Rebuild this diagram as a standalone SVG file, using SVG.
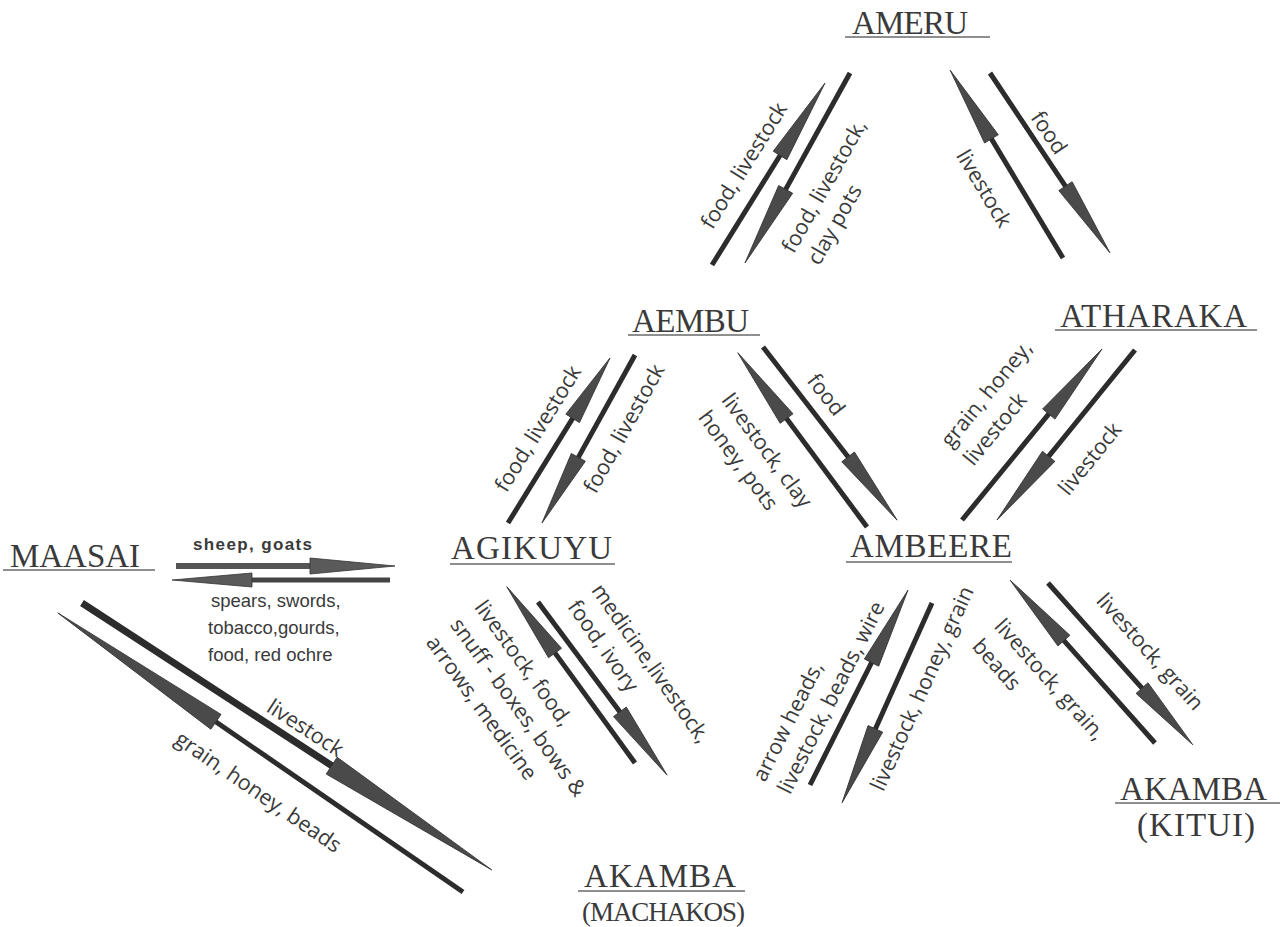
<svg xmlns="http://www.w3.org/2000/svg" width="1283" height="927" viewBox="0 0 1283 927">
<style>
.bg{fill:#ffffff}
.node{font-family:"Liberation Serif","Times New Roman",serif;font-size:33px;fill:#3a3a3a}
.sub{font-family:"Liberation Serif","Times New Roman",serif;font-size:27px;fill:#3a3a3a}
.ul{stroke:#6a6a6a;stroke-width:1.6;fill:none}
.lbl{font-family:"Open Sans","Noto Sans","Liberation Sans",sans-serif;font-size:21.5px;fill:#3a3a3a;dominant-baseline:central}
.hl{font-family:"Liberation Sans",Arial,sans-serif;font-size:18.5px;fill:#3a3a3a}
.sg{font-family:"Liberation Sans",Arial,sans-serif;font-size:17px;font-weight:bold;fill:#3a3a3a}
.shaft{stroke:#2c2c2c;stroke-width:5;fill:none}
.head{fill:#4a4a4a;stroke:#333;stroke-width:0.8}
</style>
<rect class="bg" x="0" y="0" width="1283" height="927"/>

<g id="ameru"><text class="node" x="852" y="34" textLength="116">AMERU</text><line class="ul" x1="845" y1="37" x2="990" y2="37"/></g>
<g id="aembu"><text class="node" x="632" y="332" textLength="117">AEMBU</text><line class="ul" x1="628" y1="335" x2="760" y2="335"/></g>
<g id="atharaka"><text class="node" x="1060" y="327" textLength="187">ATHARAKA</text><line class="ul" x1="1055" y1="330" x2="1257" y2="330"/></g>
<g id="maasai"><text class="node" x="10" y="567" textLength="130">MAASAI</text><line class="ul" x1="3" y1="570" x2="155" y2="570"/></g>
<g id="agikuyu"><text class="node" x="451" y="559" textLength="161">AGIKUYU</text><line class="ul" x1="450" y1="564" x2="615" y2="564"/></g>
<g id="ambeere"><text class="node" x="850" y="557" textLength="162">AMBEERE</text><line class="ul" x1="846" y1="562" x2="1012" y2="562"/></g>
<g id="akamba-kitui"><text class="node" x="1120" y="800" textLength="147">AKAMBA</text><line class="ul" x1="1115" y1="803" x2="1280" y2="803"/><text class="node" x="1137" y="836" textLength="118">(KITUI)</text></g>
<g id="akamba-machakos"><text class="node" x="584" y="887" textLength="152">AKAMBA</text><line class="ul" x1="578" y1="891" x2="745" y2="891"/><text class="sub" x="582" y="921" textLength="163">(MACHAKOS)</text></g>

<g id="connectors">
<g transform="translate(712,265) rotate(-58.16)"><path class="shaft" d="M0,0H131"/><path class="head" d="M129,-8L214,0L129,8Z"/></g>
<g transform="translate(850,73) rotate(118.93)"><path class="shaft" d="M0,0H135"/><path class="head" d="M133,-8L217,0L133,8Z"/></g>
<g transform="translate(1063,258) rotate(-121)"><path class="shaft" d="M0,0H141"/><path class="head" d="M139,-8L219,0L139,8Z"/></g>
<g transform="translate(990,73) rotate(56.3)"><path class="shaft" d="M0,0H138"/><path class="head" d="M136,-8L216,0L136,8Z"/></g>
<g transform="translate(508,523) rotate(-58.28)"><path class="shaft" d="M0,0H125"/><path class="head" d="M123,-8L194,0L123,8Z"/></g>
<g transform="translate(635,355) rotate(118.97)"><path class="shaft" d="M0,0H119"/><path class="head" d="M117,-8L192,0L117,8Z"/></g>
<g transform="translate(867,527) rotate(-126.55)"><path class="shaft" d="M0,0H137"/><path class="head" d="M135,-8L217,0L135,8Z"/></g>
<g transform="translate(763,347) rotate(52.24)"><path class="shaft" d="M0,0H141"/><path class="head" d="M139,-8L219,0L139,8Z"/></g>
<g transform="translate(962,520) rotate(-50.69)"><path class="shaft" d="M0,0H139"/><path class="head" d="M137,-8L221,0L137,8Z"/></g>
<g transform="translate(1135,350) rotate(129.07)"><path class="shaft" d="M0,0H139"/><path class="head" d="M137,-8L219,0L137,8Z"/></g>
<g transform="translate(176,566)"><path class="shaft" d="M0,0H136" style="stroke:#555;stroke-width:6"/><path class="head" d="M134,-8L219,0L134,8Z" style="fill:#5a5a5a"/></g>
<g transform="translate(390,580) rotate(180)"><path class="shaft" d="M0,0H140" style="stroke:#444"/><path class="head" d="M138,-7L218,0L138,7Z" style="fill:#5a5a5a"/></g>
<g transform="translate(82,603) rotate(33.08)"><path class="shaft" d="M0,0H300" style="stroke-width:7"/><path class="head" d="M298,-10L489,0L298,10Z"/></g>
<g transform="translate(463,892) rotate(-145.44)"><path class="shaft" d="M0,0H302"/><path class="head" d="M300,-9L492,0L300,9Z"/></g>
<g transform="translate(635,763) rotate(-126.03)"><path class="shaft" d="M0,0H138"/><path class="head" d="M136,-8L218,0L136,8Z"/></g>
<g transform="translate(538,602) rotate(53.29)"><path class="shaft" d="M0,0H139"/><path class="head" d="M137,-8L216,0L137,8Z"/></g>
<g transform="translate(810,785) rotate(-63.31)"><path class="shaft" d="M0,0H139"/><path class="head" d="M137,-8L218,0L137,8Z"/></g>
<g transform="translate(932,603) rotate(114.23)"><path class="shaft" d="M0,0H140"/><path class="head" d="M138,-8L219,0L138,8Z"/></g>
<g transform="translate(1155,743) rotate(-131.66)"><path class="shaft" d="M0,0H139"/><path class="head" d="M137,-8L218,0L137,8Z"/></g>
<g transform="translate(1048,583) rotate(48.17)"><path class="shaft" d="M0,0H143"/><path class="head" d="M141,-8L217,0L141,8Z"/></g>
</g>

<g id="labels">
<text class="lbl" text-anchor="middle" transform="translate(743,165) rotate(-58.2)">food, livestock</text>
<text class="lbl" transform="translate(786,250) rotate(-60.5)"><tspan x="0" y="0">food, livestock,</tspan><tspan x="2" y="28">clay pots</tspan></text>
<text class="lbl" text-anchor="middle" transform="translate(985,188) rotate(59)">livestock</text>
<text class="lbl" text-anchor="middle" transform="translate(1050,132) rotate(56.3)">food</text>
<text class="lbl" text-anchor="middle" transform="translate(537,428) rotate(-58.3)">food, livestock</text>
<text class="lbl" text-anchor="middle" transform="translate(623,428) rotate(-61)">food, livestock</text>
<text class="lbl" transform="translate(728,395) rotate(53.5)"><tspan x="0" y="0">livestock, clay</tspan><tspan x="0" y="29">honey, pots</tspan></text>
<text class="lbl" text-anchor="middle" transform="translate(827,394) rotate(52.2)">food</text>
<text class="lbl" transform="translate(944,443) rotate(-50.7)"><tspan x="0" y="0">grain, honey,</tspan><tspan x="0" y="29">livestock</tspan></text>
<text class="lbl" text-anchor="middle" transform="translate(1089,458) rotate(-51)">livestock</text>
<text class="sg" x="193" y="550" textLength="119">sheep, goats</text>
<text class="hl"><tspan x="211" y="607">spears, swords,</tspan><tspan x="208" y="634">tobacco,gourds,</tspan><tspan x="208" y="661">food, red ochre</tspan></text>
<text class="lbl" text-anchor="middle" transform="translate(306,727) rotate(33)">livestock</text>
<text class="lbl" text-anchor="middle" transform="translate(259,791) rotate(34.5)">grain, honey, beads</text>
<text class="lbl" transform="translate(598,585) rotate(55)"><tspan x="0" y="0">medicine,livestock,</tspan><tspan x="0" y="29">food, ivory</tspan></text>
<text class="lbl" transform="translate(481,602) rotate(54)"><tspan x="0" y="0">livestock, food,</tspan><tspan x="0" y="30">snuff - boxes, bows &amp;</tspan><tspan x="0" y="60">arrows, medicine</tspan></text>
<text class="lbl" transform="translate(757,779) rotate(-63.3)"><tspan x="0" y="0">arrow heads,</tspan><tspan x="0" y="28">livestock, beads, wire</tspan></text>
<text class="lbl" text-anchor="middle" transform="translate(921,688) rotate(-65.8)">livestock, honey, grain</text>
<text class="lbl" transform="translate(1000,621) rotate(48.3)"><tspan x="0" y="0">livestock, grain,</tspan><tspan x="0" y="30">beads</tspan></text>
<text class="lbl" text-anchor="middle" transform="translate(1151,651) rotate(48.2)">livestock, grain</text>
</g>
</svg>
